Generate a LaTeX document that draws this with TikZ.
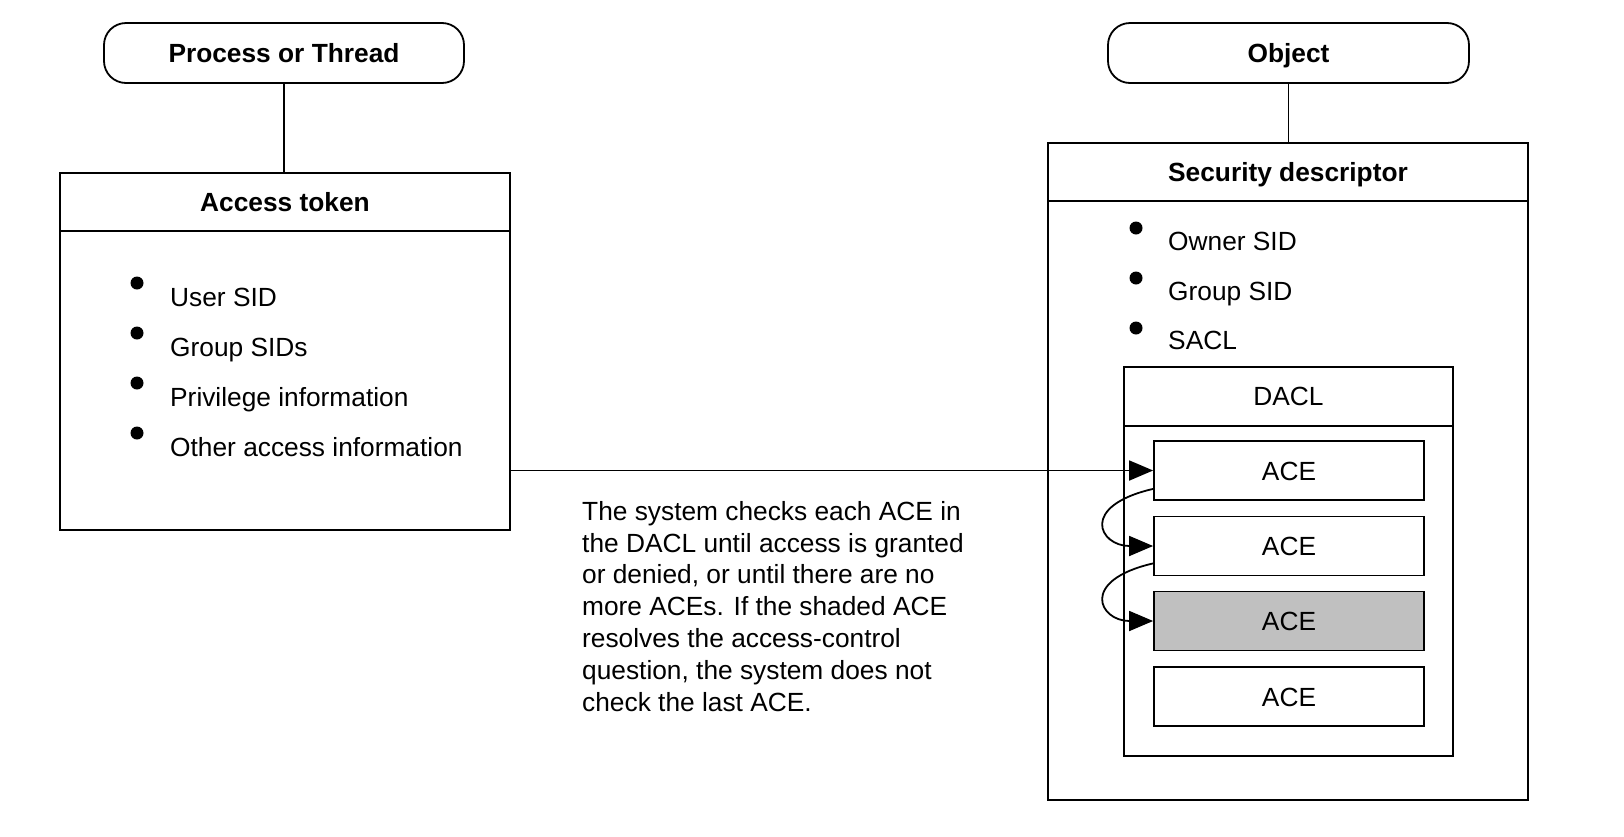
\documentclass[tikz,border=0pt]{standalone}
\usepackage{fontspec}
\setmainfont{Liberation Sans}
\usetikzlibrary{arrows.meta,calc}
\definecolor{shade}{HTML}{C0C0C0}
\begin{document}
\begin{tikzpicture}[x=1pt,y=-1pt,
  every node/.style={font=\fontsize{26.3}{31.8}\selectfont, inner sep=0pt},
  ln/.style={line width=1.8pt},
  pill/.style={draw, line width=1.8pt, rounded corners=22pt, minimum width=360pt, minimum height=60pt,
    font=\fontsize{26.3}{31.8}\selectfont\bfseries, text height=19pt, text depth=0pt},
  frame/.style={draw, line width=1.8pt, rectangle},
  title/.style={font=\fontsize{26.3}{31.8}\selectfont\bfseries, text height=19pt, text depth=0pt},
  plaintitle/.style={text height=19pt, text depth=0pt},
  ace/.style={draw, line width=1.8pt, minimum width=270pt, minimum height=59pt, text height=19pt, text depth=0pt},
  bullet/.style={circle, fill=black, minimum size=13pt},
  item/.style={anchor=base west},
  tip/.style={-{Triangle[length=24pt,width=20pt]}},
]
\useasboundingbox (0,0) rectangle (1624,836);

% left side
\node[pill] (proc) at (284,53) {Process or Thread};
\node[frame, minimum width=450pt, minimum height=357pt] (at) at (285,351.5) {};
\draw[ln] ($(at.north west)+(0,59)$) -- ($(at.north east)+(0,59)$);
\node[title] (attitle) at ($(at.north)+(0,29.5)$) {Access token};
\draw[ln] (proc.south) -- (proc.south |- at.north);

\node[bullet] (ab1) at (137,283) {};
\node[bullet] (ab2) at (137,333) {};
\node[bullet] (ab3) at (137,383) {};
\node[bullet] (ab4) at (137,433) {};
\node[item] (ai1) at (170,306) {User SID};
\node[item] (ai2) at (170,356) {Group SIDs};
\node[item] (ai3) at (170,406) {Privilege information};
\node[item] (ai4) at (170,456) {Other access information};

% right side
\node[pill, minimum width=361pt] (obj) at (1288.5,53) {Object};
\node[frame, minimum width=480pt, minimum height=657pt] (sd) at (1288,471.5) {};
\draw[ln] ($(sd.north west)+(0,59)$) -- ($(sd.north east)+(0,59)$);
\node[title] (sdtitle) at ($(sd.north)+(0,29.5)$) {Security descriptor};
\draw[ln] (obj.south) -- (obj.south |- sd.north);

\node[bullet] (sb1) at (1136,228) {};
\node[bullet] (sb2) at (1136,278) {};
\node[bullet] (sb3) at (1136,328) {};
\node[item] (si1) at (1168,250) {Owner SID};
\node[item] (si2) at (1168,300) {Group SID};
\node[item] (si3) at (1168,349) {SACL};

\node[frame, minimum width=329pt, minimum height=389pt] (dacl) at (1288.5,561.5) {};
\draw[ln] ($(dacl.north west)+(0,60)$) -- ($(dacl.north east)+(0,60)$);
\node[plaintitle] (dacltitle) at ($(dacl.north)+(0,30)$) {DACL};

\node[ace] (ace1) at (1289,470.5) {ACE};
\node[ace] (ace2) at (1289,546) {ACE};
\node[ace, fill=shade] (ace3) at (1289,621) {ACE};
\node[ace] (ace4) at (1289,696.5) {ACE};

% description
\node[anchor=north west, align=left] (desc) at (582,501)
  {The system checks each ACE in\\
   the DACL until access is granted\\
   or denied, or until there are no\\
   more ACEs. If the shaded ACE\\
   resolves the access-control\\
   question, the system does not\\
   check the last ACE.};

% connectors
\draw[ln, tip] (at.east |- ace1.west) -- (ace1.west);
\draw[ln, tip] ($(ace1.south west)+(0,-12)$) .. controls +(-74,17) and +(-54,0) .. (ace2.west);
\draw[ln, tip] ($(ace2.south west)+(0,-13)$) .. controls +(-74,17) and +(-54,0) .. (ace3.west);
\end{tikzpicture}
\end{document}
